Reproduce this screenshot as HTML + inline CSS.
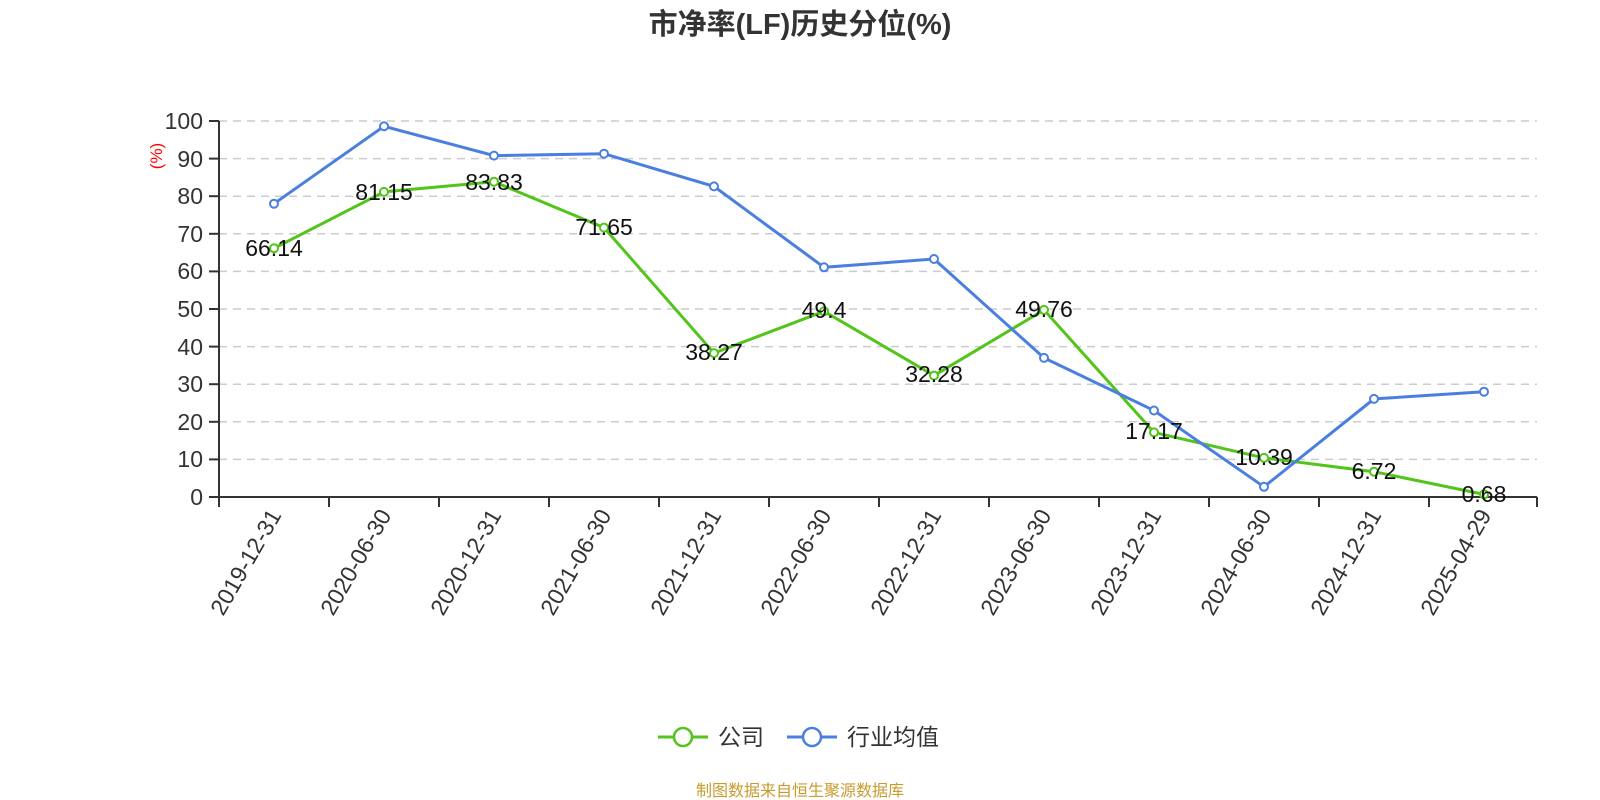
<!DOCTYPE html>
<html><head><meta charset="utf-8"><style>body{margin:0;background:#fff}svg{display:block}</style></head>
<body>
<svg width="1600" height="800" xmlns="http://www.w3.org/2000/svg" font-family="'Liberation Sans','Noto Sans CJK SC',sans-serif">
<text x="800" y="34" text-anchor="middle" font-size="29" font-weight="bold" fill="#333">市净率(LF)历史分位(%)</text>
<g stroke="#ccc" stroke-width="1.5" stroke-dasharray="8,6">
<line x1="219" x2="1537" y1="459.4" y2="459.4"/><line x1="219" x2="1537" y1="421.8" y2="421.8"/><line x1="219" x2="1537" y1="384.2" y2="384.2"/><line x1="219" x2="1537" y1="346.6" y2="346.6"/><line x1="219" x2="1537" y1="309" y2="309"/><line x1="219" x2="1537" y1="271.4" y2="271.4"/><line x1="219" x2="1537" y1="233.8" y2="233.8"/><line x1="219" x2="1537" y1="196.2" y2="196.2"/><line x1="219" x2="1537" y1="158.6" y2="158.6"/><line x1="219" x2="1537" y1="121" y2="121"/>
</g>
<g stroke="#333" stroke-width="2">
<line x1="219" y1="121" x2="219" y2="497"/><line x1="219" y1="497" x2="1537" y2="497"/>
<line x1="209" x2="219" y1="497" y2="497"/><line x1="209" x2="219" y1="459.4" y2="459.4"/><line x1="209" x2="219" y1="421.8" y2="421.8"/><line x1="209" x2="219" y1="384.2" y2="384.2"/><line x1="209" x2="219" y1="346.6" y2="346.6"/><line x1="209" x2="219" y1="309" y2="309"/><line x1="209" x2="219" y1="271.4" y2="271.4"/><line x1="209" x2="219" y1="233.8" y2="233.8"/><line x1="209" x2="219" y1="196.2" y2="196.2"/><line x1="209" x2="219" y1="158.6" y2="158.6"/><line x1="209" x2="219" y1="121" y2="121"/>
<line x1="219" x2="219" y1="497" y2="507"/><line x1="329" x2="329" y1="497" y2="507"/><line x1="439" x2="439" y1="497" y2="507"/><line x1="549" x2="549" y1="497" y2="507"/><line x1="659" x2="659" y1="497" y2="507"/><line x1="769" x2="769" y1="497" y2="507"/><line x1="879" x2="879" y1="497" y2="507"/><line x1="989" x2="989" y1="497" y2="507"/><line x1="1099" x2="1099" y1="497" y2="507"/><line x1="1209" x2="1209" y1="497" y2="507"/><line x1="1319" x2="1319" y1="497" y2="507"/><line x1="1429" x2="1429" y1="497" y2="507"/><line x1="1537" x2="1537" y1="497" y2="507"/>
</g>
<g font-size="23" fill="#333" text-anchor="end">
<text x="203" y="505">0</text><text x="203" y="467">10</text><text x="203" y="430">20</text><text x="203" y="392">30</text><text x="203" y="355">40</text><text x="203" y="317">50</text><text x="203" y="279">60</text><text x="203" y="242">70</text><text x="203" y="204">80</text><text x="203" y="167">90</text><text x="203" y="129">100</text>
</g>
<text transform="translate(162,156) rotate(-90)" text-anchor="middle" font-size="17" fill="red">(%)</text>
<g font-size="23" fill="#333" text-anchor="end">
<text transform="translate(282,515) rotate(-60)">2019-12-31</text>
<text transform="translate(392,515) rotate(-60)">2020-06-30</text>
<text transform="translate(502,515) rotate(-60)">2020-12-31</text>
<text transform="translate(612,515) rotate(-60)">2021-06-30</text>
<text transform="translate(722,515) rotate(-60)">2021-12-31</text>
<text transform="translate(832,515) rotate(-60)">2022-06-30</text>
<text transform="translate(942,515) rotate(-60)">2022-12-31</text>
<text transform="translate(1052,515) rotate(-60)">2023-06-30</text>
<text transform="translate(1162,515) rotate(-60)">2023-12-31</text>
<text transform="translate(1272,515) rotate(-60)">2024-06-30</text>
<text transform="translate(1382,515) rotate(-60)">2024-12-31</text>
<text transform="translate(1492,515) rotate(-60)">2025-04-29</text>
</g>
<polyline fill="none" stroke="#52c41a" stroke-width="3" points="274,248.3 384,191.9 494,181.8 604,227.6 714,353.1 824,311.3 934,375.6 1044,309.9 1154,432.4 1264,457.9 1374,471.7 1484,494.4"/>
<g fill="#fff" stroke="#52c41a" stroke-width="2">
<circle cx="274" cy="248.3" r="4"/><circle cx="384" cy="191.9" r="4"/><circle cx="494" cy="181.8" r="4"/><circle cx="604" cy="227.6" r="4"/><circle cx="714" cy="353.1" r="4"/><circle cx="824" cy="311.3" r="4"/><circle cx="934" cy="375.6" r="4"/><circle cx="1044" cy="309.9" r="4"/><circle cx="1154" cy="432.4" r="4"/><circle cx="1264" cy="457.9" r="4"/><circle cx="1374" cy="471.7" r="4"/><circle cx="1484" cy="494.4" r="4"/>
</g>
<polyline fill="none" stroke="#4a7fe0" stroke-width="3" points="274,203.7 384,126.3 494,155.6 604,153.7 714,186.4 824,267.3 934,259 1044,357.9 1154,410.5 1264,486.8 1374,398.9 1484,391.7"/>
<g fill="#fff" stroke="#4a7fe0" stroke-width="2">
<circle cx="274" cy="203.7" r="4"/><circle cx="384" cy="126.3" r="4"/><circle cx="494" cy="155.6" r="4"/><circle cx="604" cy="153.7" r="4"/><circle cx="714" cy="186.4" r="4"/><circle cx="824" cy="267.3" r="4"/><circle cx="934" cy="259" r="4"/><circle cx="1044" cy="357.9" r="4"/><circle cx="1154" cy="410.5" r="4"/><circle cx="1264" cy="486.8" r="4"/><circle cx="1374" cy="398.9" r="4"/><circle cx="1484" cy="391.7" r="4"/>
</g>
<g font-size="23" fill="#111" text-anchor="middle">
<text x="274" y="256">66.14</text><text x="384" y="200">81.15</text><text x="494" y="190">83.83</text><text x="604" y="235">71.65</text><text x="714" y="360">38.27</text><text x="824" y="318">49.4</text><text x="934" y="382">32.28</text><text x="1044" y="317">49.76</text><text x="1154" y="439">17.17</text><text x="1264" y="465">10.39</text><text x="1374" y="479">6.72</text><text x="1484" y="502">0.68</text>
</g>
<line x1="658" x2="708" y1="737" y2="737" stroke="#52c41a" stroke-width="3"/>
<circle cx="683" cy="737" r="9" fill="#fff" stroke="#52c41a" stroke-width="2.5"/>
<text x="718" y="745" font-size="23" fill="#333">公司</text>
<line x1="787" x2="837" y1="737" y2="737" stroke="#4a7fe0" stroke-width="3"/>
<circle cx="812" cy="737" r="9" fill="#fff" stroke="#4a7fe0" stroke-width="2.5"/>
<text x="847" y="745" font-size="23" fill="#333">行业均值</text>
<text x="800" y="796" text-anchor="middle" font-size="16" fill="#c89b2c">制图数据来自恒生聚源数据库</text>
</svg>
</body></html>
